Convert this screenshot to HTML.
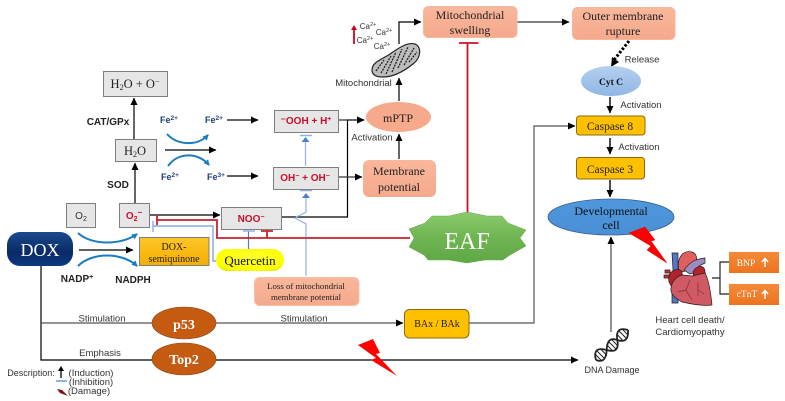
<!DOCTYPE html>
<html><head><meta charset="utf-8"><style>
html,body{margin:0;padding:0;background:#fff}
svg{display:block}
.s{font-family:"Liberation Serif",serif}
.a{font-family:"Liberation Sans",sans-serif}
text{text-anchor:middle}
</style></head><body>
<svg width="785" height="401" viewBox="0 0 785 401" xmlns="http://www.w3.org/2000/svg">
<defs>
<marker id="k" markerWidth="9" markerHeight="8" refX="7" refY="3.5" orient="auto" markerUnits="userSpaceOnUse"><path d="M0 0L7.5 3.5L0 7z" fill="#000"/></marker>
<marker id="cb" markerWidth="7" markerHeight="7" refX="5" refY="3" orient="auto" markerUnits="userSpaceOnUse"><path d="M0 0L6 3L0 6z" fill="#1a7cc0"/></marker>
<linearGradient id="sal" x1="0" y1="0" x2="0" y2="1"><stop offset="0" stop-color="#f9b79c"/><stop offset="1" stop-color="#f5a98c"/></linearGradient>
<linearGradient id="gold" x1="0" y1="0" x2="0" y2="1"><stop offset="0" stop-color="#ffc62a"/><stop offset="1" stop-color="#f5ae00"/></linearGradient>
<linearGradient id="dox" x1="0" y1="0" x2="0" y2="1"><stop offset="0" stop-color="#1a4a8c"/><stop offset=".6" stop-color="#0a2a66"/><stop offset="1" stop-color="#0c3a80"/></linearGradient>
<linearGradient id="blue" x1="0" y1="0" x2="0" y2="1"><stop offset="0" stop-color="#b4cff0"/><stop offset="1" stop-color="#8fb6e4"/></linearGradient>
<linearGradient id="dev" x1="0" y1="0" x2="0" y2="1"><stop offset="0" stop-color="#4f97dc"/><stop offset="1" stop-color="#4a8fd6"/></linearGradient>
<linearGradient id="eaf" x1="0" y1="0" x2="0" y2="1"><stop offset="0" stop-color="#8ccb6c"/><stop offset=".5" stop-color="#6fb552"/><stop offset="1" stop-color="#5fa646"/></linearGradient>
<linearGradient id="or" x1="0" y1="0" x2="0" y2="1"><stop offset="0" stop-color="#f58a3a"/><stop offset="1" stop-color="#ec7420"/></linearGradient>
<radialGradient id="ye" cx=".5" cy=".4" r=".7"><stop offset="0" stop-color="#ffff30"/><stop offset=".8" stop-color="#fdfd00"/><stop offset="1" stop-color="#e8e800"/></radialGradient>
</defs>

<!-- lines -->
<g fill="none" stroke="#000" stroke-width="1.2">
<path d="M41 266V360H152"/>
<path d="M41 323H152" stroke="#555"/>
<path d="M216 323H403" stroke="#555" marker-end="url(#k)"/>
<path d="M216 360H578" marker-end="url(#k)"/>
<path d="M469 323H534V126H575" stroke="#555" marker-end="url(#k)"/>
<path d="M611 332V237" stroke="#777" stroke-width="1.6" marker-end="url(#k)"/>
<path d="M79 250H133" marker-end="url(#k)"/>
<path d="M135 203V163" marker-end="url(#k)"/>
<path d="M134 139V98" marker-end="url(#k)"/>
<path d="M165 150H216" marker-end="url(#k)"/>
<path d="M227 120H258" stroke="#333" stroke-width="1.4" marker-end="url(#k)"/>
<path d="M227 176H258" marker-end="url(#k)"/>
<path d="M150 215H220" marker-end="url(#k)"/>
<path d="M282 217H347.500V120H364" marker-end="url(#k)"/>
<path d="M338 120H364" stroke="#333" marker-end="url(#k)"/>
<path d="M338 177H362" stroke="#333" marker-end="url(#k)"/>
<path d="M399 159V134" marker-end="url(#k)"/>
<path d="M399 101V78" marker-end="url(#k)"/>
<path d="M399 44V22H421" marker-end="url(#k)"/>
<path d="M517 22H569" stroke="#555" stroke-width="1.4" marker-end="url(#k)"/>
<path d="M610 97V113" stroke-width="1.4" marker-end="url(#k)"/>
<path d="M610 138V154" stroke-width="1.4" marker-end="url(#k)"/>
<path d="M610 180V197" stroke-width="1.4" marker-end="url(#k)"/>
<path d="M629 41L614 60" stroke-width="3" stroke-dasharray="2.500 1.800"/>
<path d="M61 378V369" stroke-width="1.300"/>
<path d="M712 278H720M729 262H720V294H729" stroke="#222"/>
</g>
<path d="M611 67L612 57L619 62z" fill="#000"/>
<path d="M61 366L58 371H64z" fill="#000"/>

<!-- blue -->
<g fill="none" stroke="#8fb0e8" stroke-width="1.200">
<path d="M306 276V224L295 218L306 212V194"/>
<path d="M305.500 166V141"/>
<path d="M216 261H213V226H153" stroke="#6f97e0"/>
<path d="M248.500 249V231" stroke="#4a7fd0"/>
<path d="M153 221V232M243 231H255M300 190.500H312M300 135.500H312" stroke-width="1.500"/>
<path d="M56 381H67" stroke="#4a7fd0"/>
</g>
<path d="M306 193L302 198H310zM305.500 137L301.500 142H309.500z" fill="#4a7fd0"/>

<!-- red -->
<g fill="none" stroke="#c8202c" stroke-width="1.800">
<path d="M157 220H217V238H410"/>
<path d="M157 215V225M267 238V231M261 231H273"/>
<path d="M467.500 213V43M459 43H478.500" stroke="#cc1122"/>
<path d="M354 44V28" stroke="#d0021b"/>
</g>
<path d="M354 25L351 30H357z" fill="#d0021b"/>

<!-- curved blue -->
<g fill="none" stroke="#1a7cc0" stroke-width="2">
<path d="M78 233C92 246 122 245 137 234" marker-end="url(#cb)"/>
<path d="M78 266C92 252 122 252 137 266" marker-end="url(#cb)"/>
<path d="M167 134C178 146 198 146 208 135" marker-end="url(#cb)"/>
<path d="M168 166C178 152 198 152 209 165" marker-end="url(#cb)"/>
</g>

<!-- grey boxes -->
<g fill="#e6e6e6" stroke="#7f7f7f" stroke-width="1">
<rect x="103.500" y="71.500" width="64" height="25"/>
<rect x="115.500" y="139.500" width="41" height="22"/>
<rect x="66.500" y="203.500" width="29" height="24"/>
<rect x="119.500" y="203.500" width="30" height="24"/>
<rect x="221.500" y="207.500" width="60" height="22"/>
<rect x="274.500" y="110.500" width="64" height="22"/>
<rect x="273.500" y="167.500" width="65" height="22"/>
</g>
<g class="s" fill="#222">
<text x="135" y="88" font-size="12.500">H<tspan font-size="8" dy="2">2</tspan><tspan dy="-2">O + O</tspan><tspan font-size="8" dy="-4">−</tspan></text>
<text x="135" y="155" font-size="12.500">H<tspan font-size="8" dy="2">2</tspan><tspan dy="-2">O</tspan></text>
</g>
<text class="a" x="81" y="219" font-size="10" fill="#333">O<tspan font-size="7" dy="2">2</tspan></text>
<g class="a" font-weight="bold" fill="#c8102e">
<text x="134" y="219" font-size="10">O<tspan font-size="7" dy="2">2</tspan><tspan font-size="8" dy="-6">−</tspan></text>
<text x="251" y="222" font-size="10">NOO<tspan font-size="7" dy="-3">−</tspan></text>
<text x="306" y="124" font-size="10">⁻OOH + H<tspan font-size="7" dy="-3">+</tspan></text>
<text x="305" y="181" font-size="10">OH<tspan font-size="7" dy="-3">−</tspan><tspan dy="3"> + OH</tspan><tspan font-size="7" dy="-3">−</tspan></text>
</g>

<!-- DOX -->
<rect x="7" y="232" width="66" height="34" rx="13" fill="url(#dox)"/>
<text class="s" x="40" y="256" font-size="18" fill="#fff">DOX</text>
<rect x="139.500" y="237.500" width="69.500" height="28" fill="url(#gold)" stroke="#7f7f7f"/>
<g class="s" font-size="10" fill="#222"><text x="174" y="250">DOX-</text><text x="174" y="262">semiquinone</text></g>
<rect x="216" y="249" width="68" height="22" rx="11" fill="url(#ye)"/>
<text class="s" x="250" y="265" font-size="13" fill="#111">Quercetin</text>
<rect x="254.500" y="277.500" width="104.500" height="28" rx="5" fill="url(#sal)" stroke="#f9c0a8"/>
<g class="s" font-size="8.800" fill="#222"><text x="306" y="289">Loss of mitochondrial</text><text x="306" y="300">membrane potential</text></g>

<!-- ellipses -->
<ellipse cx="184" cy="323" rx="32" ry="16" fill="#c55a11" stroke="#8a4a20" stroke-width=".6"/>
<ellipse cx="184" cy="359" rx="32" ry="16" fill="#c55a11" stroke="#8a4a20" stroke-width=".6"/>
<g class="s" font-weight="bold" fill="#fff"><text x="184" y="329" font-size="14">p53</text><text x="184" y="364" font-size="14">Top2</text></g>
<rect x="404.500" y="309.500" width="64.500" height="28.500" rx="5" fill="#ffc000" stroke="#8a6a10"/>
<text class="s" x="437" y="327" font-size="10" fill="#222">BAx / BAk</text>

<!-- salmon -->
<rect x="423.500" y="6.500" width="93.500" height="31" rx="5" fill="url(#sal)" stroke="#f7b79c"/>
<g class="s" font-size="12" fill="#222"><text x="470" y="19">Mitochondrial</text><text x="470" y="34">swelling</text></g>
<rect x="572.500" y="7.500" width="102.500" height="32" rx="5" fill="url(#sal)" stroke="#f7b79c"/>
<g class="s" font-size="12" fill="#222"><text x="623" y="20">Outer membrane</text><text x="623" y="35">rupture</text></g>
<ellipse cx="398.500" cy="117" rx="32.500" ry="15" fill="#f7a98c"/>
<text class="s" x="398" y="122" font-size="12" fill="#222">mPTP</text>
<rect x="363" y="160" width="73" height="37" rx="6" fill="url(#sal)"/>
<g class="s" font-size="12" fill="#222"><text x="399" y="175">Membrane</text><text x="399" y="191">potential</text></g>

<!-- right column -->
<ellipse cx="611" cy="81" rx="30" ry="15" fill="url(#blue)"/>
<text class="s" x="611" y="85" font-size="9.500" font-weight="bold" fill="#111">Cyt C</text>
<rect x="576.500" y="116" width="68.500" height="19" rx="3" fill="#ffc000" stroke="#8a6a10"/>
<text class="s" x="610" y="130" font-size="11.500" fill="#222">Caspase 8</text>
<rect x="576.500" y="157.500" width="68" height="21.500" rx="3" fill="#ffc000" stroke="#8a6a10"/>
<text class="s" x="610" y="173" font-size="11.500" fill="#222">Caspase 3</text>
<ellipse cx="611" cy="217" rx="63" ry="18" fill="url(#dev)" stroke="#3a5f8a" stroke-width=".8"/>
<g class="s" font-size="12" fill="#111"><text x="611" y="215">Developmental</text><text x="611" y="229">cell</text></g>
<rect x="729" y="252" width="50" height="21" fill="url(#or)"/>
<rect x="729" y="284" width="50" height="21" fill="url(#or)"/>
<g class="s" font-size="9.500" fill="#fff"><text x="746" y="266">BNP</text><text x="747" y="297">cTnT</text></g>
<path d="M765 267V259M762 262L765 258.500L768 262M765 299V291M762 294L765 290.500L768 294" fill="none" stroke="#fff" stroke-width="1.500"/>

<!-- EAF -->
<polygon points="467,212 487,216 502,216 508,223 526,230 520,238 526,246 510,255 503,260 485,260 467,263 449,260 428,260 424,255 409,247 414,238 409,229 425,223 432,216 449,216" fill="url(#eaf)" stroke="#6aa84f" stroke-width=".5"/>
<text class="s" x="467" y="249" font-size="24" fill="#fff">EAF</text>

<!-- lightning -->
<polygon points="629,233 645,227 655,240 651,241 667,263 647,250 651,246" fill="#f00" stroke="#e00" stroke-width=".5"/>
<polygon points="358,345 373,339 380,353 376,354 397,376 371,360 376,358" fill="#f00"/>
<path d="M57 389L62 390L68 396L60 393z" fill="#7a1010"/>

<!-- mitochondrion -->
<g>
<path d="M372 70C372 62 381 60 390 54C400 47 408 42 415 44C422 47 421 58 413 64C403 72 393 77 383 77C376 77 372 75 372 70Z" fill="#bdbdbd" stroke="#222" stroke-width="1.200"/>
<path d="M376 71L384 60M381 73L391 56M386 74L396 52M392 72L402 49M398 68L408 47M404 65L414 48M409 62L417 52" stroke="#222" stroke-width="1.300" stroke-dasharray="2 1" fill="none"/>
</g>

<!-- DNA -->
<g fill="none" stroke="#222" stroke-width="1.800">
<path d="M596 360Q606 364 606.700 350Q607 336 617.300 340Q629 344 628 330"/>
<path d="M596 360Q592 346 606.700 350Q620 354 617.300 340Q615 326 628 330"/>
<path d="M601.500 360.600L595.700 354.600M605 359L597 351M607 355.600L601 349.400M606.500 344.300L612.300 350.500M608 341L616 349M611.700 339.500L617.500 345.700M622.900 340.600L617.100 334.400M627 339L619 331M628.300 335.500L622.500 329.300" stroke-width="1"/>
</g>

<!-- heart -->
<g stroke="#2a1a1a" stroke-width=".7">
<path d="M672 253H678V303H672V286L673 270Z" fill="#4f79c8"/>
<path d="M664 275H670V278H664ZM665 270H670V273H665Z" fill="#c8323c"/>
<path d="M679 272C676 256 684 250 692 252C698 254 698 262 694 270Z" fill="#e0605f"/>
<path d="M684 270C690 262 695 259 705 258V263L699 266L699 272L690 274Z" fill="#9d8cc4"/>
<path d="M669 276C670 270 680 267 682 272L683 282L674 288C669 285 668 281 669 276Z" fill="#b0242c"/>
<path d="M693 272C696 265 705 264 705 272L707 280L694 280Z" fill="#b0242c"/>
<path d="M671 288C672 280 678 276 682 275L692 276L705 273C709 280 711 295 712 305C705 306 695 305 682 302C675 298 670 294 671 288Z" fill="#cf5a66"/>
<path d="M690 280L686 290L692 300M686 290L678 292M698 282L698 296M698 290L704 294" fill="none" stroke="#8a2a30"/>
</g>

<!-- labels -->
<g class="a" fill="#333" font-size="9.500">
<text x="102" y="321.500">Stimulation</text>
<text x="100" y="356">Emphasis</text>
<text x="304" y="321.500">Stimulation</text>
<text x="363.500" y="86">Mitochondrial</text>
<text x="372" y="140.500">Activation</text>
<text x="642" y="62.500">Release</text>
<text x="641" y="108">Activation</text>
<text x="639" y="150">Activation</text>
<text x="612" y="373" font-size="9">DNA Damage</text>
<text x="690" y="323">Heart cell death/</text>
<text x="690" y="335">Cardiomyopathy</text>
<text x="31" y="376" font-size="9">Description:</text>
<text x="91" y="376">(Induction)</text>
<text x="91" y="385">(Inhibition)</text>
<text x="89" y="394">(Damage)</text>
<g font-size="8">
<text x="368" y="29">Ca<tspan font-size="5.500" dy="-3">2+</tspan></text>
<text x="384" y="35">Ca<tspan font-size="5.500" dy="-3">2+</tspan></text>
<text x="365" y="43">Ca<tspan font-size="5.500" dy="-3">2+</tspan></text>
<text x="382" y="49">Ca<tspan font-size="5.500" dy="-3">2+</tspan></text>
</g>
</g>
<g class="a" font-weight="bold" fill="#222" font-size="10">
<text x="108" y="125">CAT/GPx</text>
<text x="118" y="188">SOD</text>
<text x="77" y="282">NADP<tspan font-size="7" dy="-3">+</tspan></text>
<text x="133" y="283">NADPH</text>
</g>
<g class="a" font-weight="bold" fill="#1f3f77" font-size="9">
<text x="169" y="123">Fe<tspan font-size="6.500" dy="-3">2+</tspan></text>
<text x="214" y="123">Fe<tspan font-size="6.500" dy="-3">2+</tspan></text>
<text x="170" y="180">Fe<tspan font-size="6.500" dy="-3">2+</tspan></text>
<text x="216" y="180">Fe<tspan font-size="6.500" dy="-3">3+</tspan></text>
</g>
</svg>
</body></html>
